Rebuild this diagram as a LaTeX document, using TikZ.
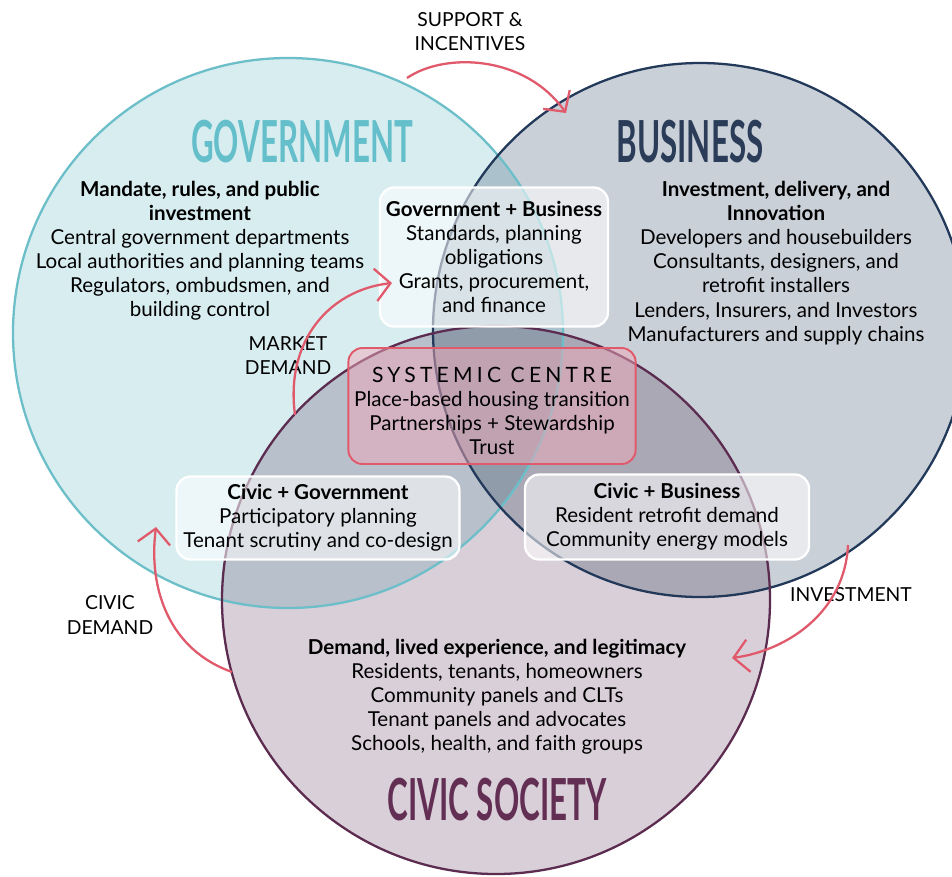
\documentclass[tikz,border=0pt]{standalone}
\usepackage{fontspec}
\setmainfont{Lato}
\newfontfamily\headfont{Lato}[FakeStretch=0.54]
\usetikzlibrary{arrows.meta}

\definecolor{govline}{HTML}{6CBFC9}
\definecolor{govfill}{HTML}{D8EDF0}
\definecolor{govtitle}{HTML}{65BFCA}
\definecolor{busline}{HTML}{22395A}
\definecolor{busfill}{HTML}{CAD0D8}
\definecolor{bustitle}{HTML}{2A3C58}
\definecolor{civline}{HTML}{5B2C50}
\definecolor{civfill}{HTML}{D9CFD8}
\definecolor{civtitle}{HTML}{632E53}
\definecolor{flowred}{HTML}{E05A6B}
\definecolor{corefill}{HTML}{F0A8B8}

\tikzset{
  ring/.style={line width=1.3pt},
  head/.style={font=\headfont\bfseries\fontsize{33}{33}\selectfont},
  body/.style={font=\fontsize{11.7}{13.7}\selectfont, align=center},
  pair/.style={body, draw=white, line width=1.3pt, fill=white, fill opacity=0.55,
    text opacity=1, rounded corners=8pt},
  core/.style={body, draw=flowred, line width=1.1pt, fill=corefill, fill opacity=0.5,
    text opacity=1, rounded corners=8pt},
  tag/.style={font=\fontsize{11}{13.7}\selectfont, align=center},
  flow/.style={draw=flowred, line width=1.3pt, -{Straight Barb[length=3mm,width=6.5mm]}},
}

\begin{document}
\begin{tikzpicture}[x=0.02cm, y=-0.02cm]
  \clip (0,0) rectangle (952,876);
  \fill[white] (0,0) rectangle (952,876);

  % the three sectors, overlaps darkened by multiply
  \begin{scope}[blend group=multiply]
    \fill[govfill] (288,333) circle [radius=275];
    \fill[busfill] (700,330) circle [radius=267];
    \fill[civfill] (496,600) circle [radius=274];
  \end{scope}
  \draw[ring, draw=govline] (288,333) circle [radius=275];
  \draw[ring, draw=busline] (700,330) circle [radius=267];
  \draw[ring, draw=civline] (496,600) circle [radius=274];

  \node[head, text=govtitle] (govhead) at (302,142) {GOVERNMENT};
  \node[head, text=bustitle] (bushead) at (690,142) {BUSINESS};
  \node[head, text=civtitle] (civhead) at (497,800) {CIVIC SOCIETY};

  \node[body] (govtext) at (200,251) {\textbf{Mandate, rules, and public}\\\textbf{investment}\\
    Central government departments\\Local authorities and planning teams\\
    Regulators, ombudsmen, and\\building control};
  \node[body] (bustext) at (776,263) {\textbf{Investment, delivery, and}\\\textbf{Innovation}\\
    Developers and housebuilders\\Consultants, designers, and\\retrofit installers\\
    Lenders, Insurers, and Investors\\Manufacturers and supply chains};
  \node[body] (civtext) at (497,697) {\textbf{Demand, lived experience, and legitimacy}\\
    Residents, tenants, homeowners\\Community panels and CLTs\\
    Tenant panels and advocates\\Schools, health, and faith groups};

  % overlaps
  \node[pair, minimum width=4.26cm, minimum height=2.78cm] (govbus) at (494,257) {
    \textbf{Government + Business}\\Standards, planning\\obligations\\
    Grants, procurement,\\and finance};
  \node[pair, minimum width=5.66cm, minimum height=1.66cm] (civgov) at (318,518) {
    \textbf{Civic + Government}\\Participatory planning\\Tenant scrutiny and co-design};
  \node[pair, minimum width=5.68cm, minimum height=1.70cm] (civbus) at (667,517) {
    \textbf{Civic + Business}\\Resident retrofit demand\\Community energy models};
  \node[core, minimum width=5.72cm, minimum height=2.32cm] (centre) at (492,406) {
    \rule{0pt}{14pt}{\fontsize{12}{13.7}\selectfont\addfontfeature{LetterSpace=20}SYSTEMIC CENTRE}\\
    Place-based housing transition\\Partnerships + Stewardship\\Trust};

  % flows between sectors
  \node[tag] (support) at (470,32) {SUPPORT \&\\INCENTIVES};
  \node[tag] (market) at (288,356) {MARKET\\DEMAND};
  \node[tag] (civdem) at (110,615) {CIVIC\\DEMAND};
  \node[tag] (invest) at (851,595) {INVESTMENT};

  \coordinate (supA) at (407,78);
  \coordinate (supB) at (566,113);
  \coordinate (mktA) at (295,415);
  \coordinate (mktB) at (392,283);
  \coordinate (civA) at (232,672);
  \coordinate (civB) at (156,527);
  \coordinate (invA) at (848,545);
  \coordinate (invB) at (732,658);

  \draw[flow] (supA) .. controls (445,52) and (525,55) .. (supB);
  \draw[flow] (mktA) .. controls (285,340) and (330,290) .. (mktB);
  \draw[flow] (civA) .. controls (170,650) and (148,590) .. (civB);
  \draw[flow] (invA) .. controls (845,610) and (790,650) .. (invB);
\end{tikzpicture}
\end{document}
